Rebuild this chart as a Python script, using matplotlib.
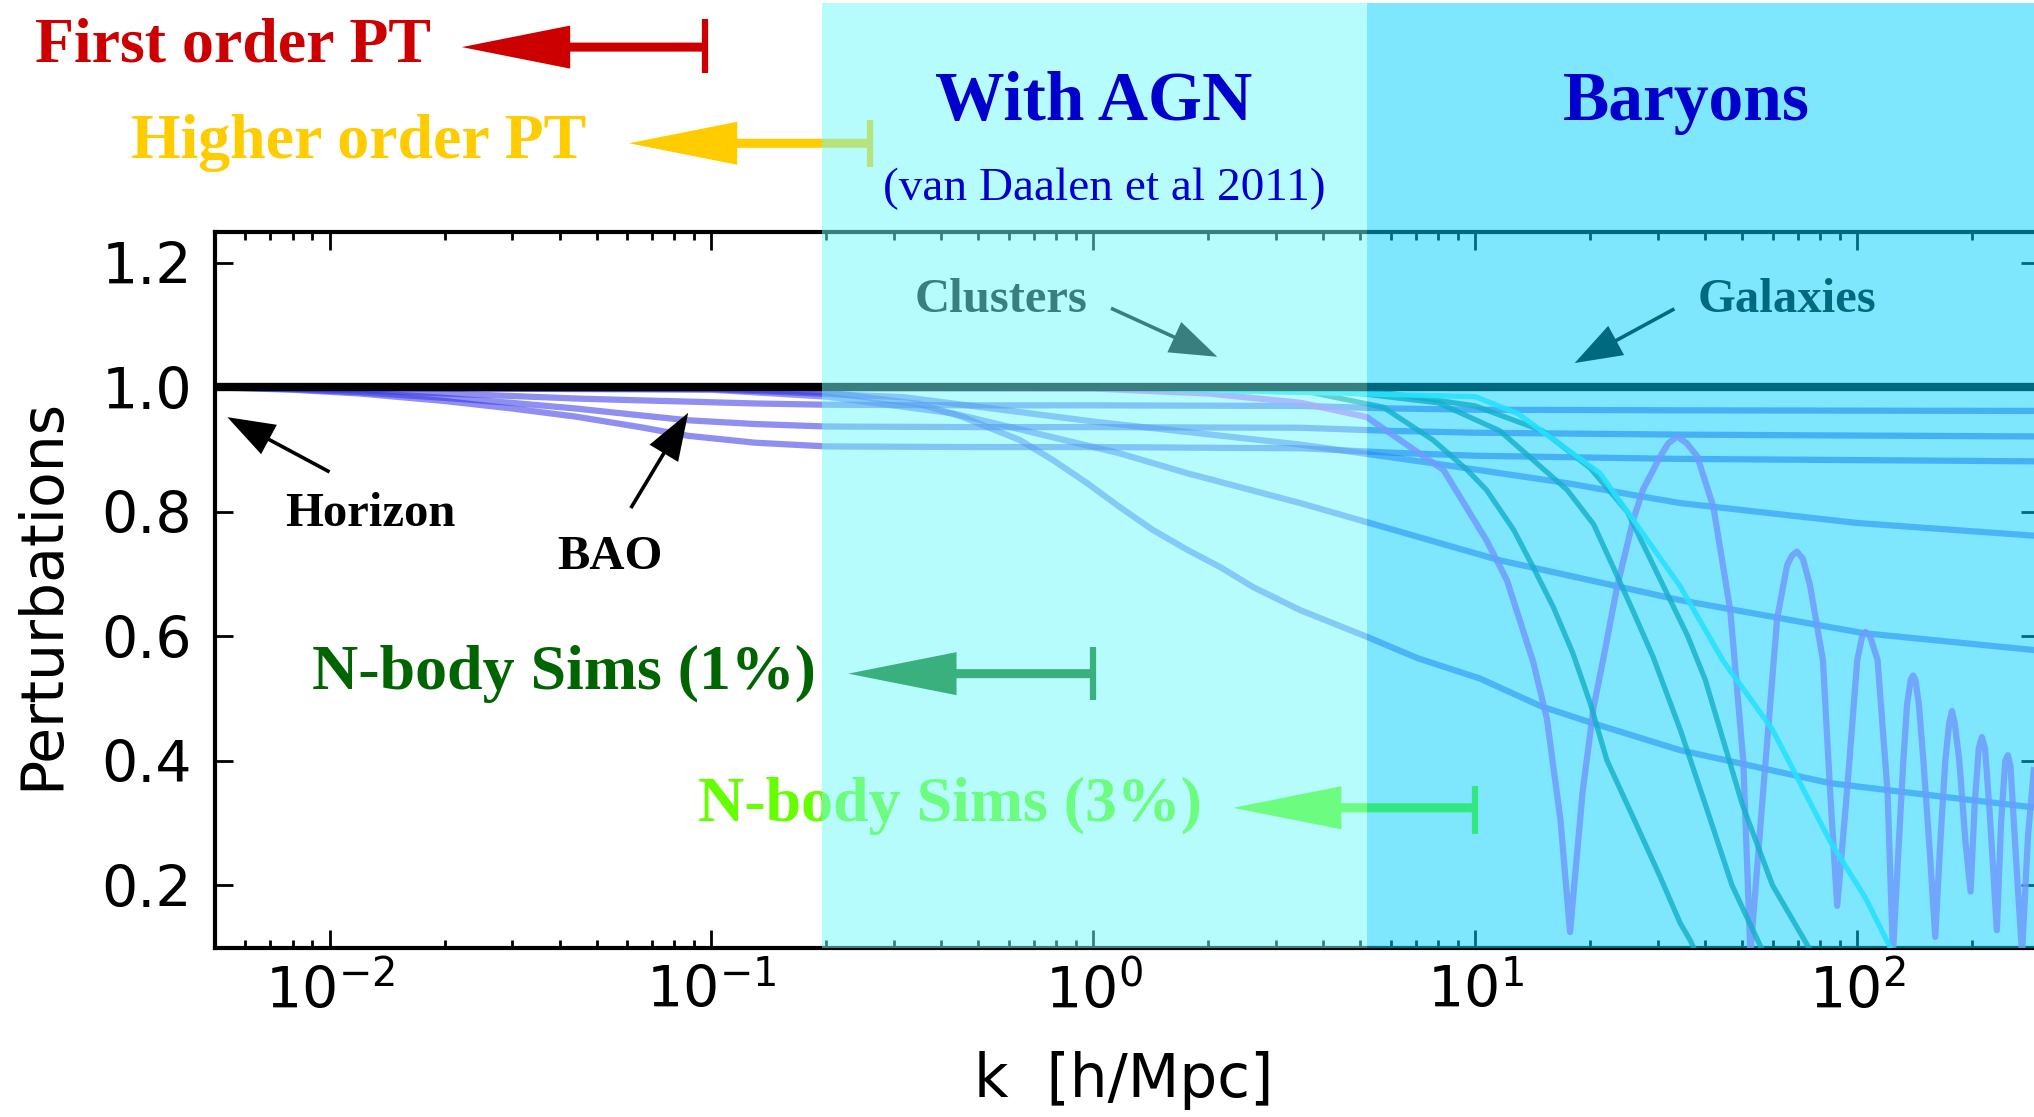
import matplotlib
matplotlib.use("Agg")
import matplotlib.pyplot as plt
from matplotlib.patches import FancyArrowPatch
from matplotlib.ticker import FixedLocator, LogLocator, NullFormatter, FuncFormatter

# ---------------- data: P(k) relative to the linear dark-matter-only spectrum ----------------
k_bao = [0.005, 0.008, 0.012, 0.02, 0.03, 0.044, 0.065, 0.087, 0.13, 0.2, 0.5, 1.0, 3.5, 6.0, 10.0, 34.0, 300.0]
bao_1 = [1.0, 0.998, 0.995, 0.99, 0.986, 0.982, 0.979, 0.977, 0.974, 0.972, 0.971, 0.971, 0.970, 0.966, 0.964, 0.963, 0.962]
bao_2 = [1.0, 0.997, 0.992, 0.983, 0.975, 0.966, 0.955, 0.947, 0.941, 0.937, 0.936, 0.936, 0.935, 0.930, 0.927, 0.924, 0.921]
bao_3 = [1.0, 0.996, 0.990, 0.978, 0.966, 0.953, 0.936, 0.922, 0.911, 0.905, 0.904, 0.904, 0.902, 0.895, 0.890, 0.885, 0.881]

k_gal_a = [0.005, 0.1, 0.32, 1.0, 3.48, 7.75, 17.4, 25.9, 34.4, 100.0, 300.0]
gal_a = [1.0, 0.997, 0.984, 0.945, 0.908, 0.878, 0.846, 0.827, 0.814, 0.782, 0.761]

k_gal_b = [0.005, 0.1, 0.2, 0.43, 1.17, 1.76, 3.48, 11.6, 34.4, 104.0, 300.0]
gal_b = [1.0, 0.996, 0.985, 0.958, 0.894, 0.862, 0.814, 0.722, 0.658, 0.605, 0.577]

k_gal_c = [0.005, 0.1, 0.2, 0.352, 0.456, 0.643, 0.784, 0.963, 1.17, 1.43, 1.76, 2.15, 2.62,
           3.48, 5.21, 7.05, 10.3, 14.8, 20.4, 34.4, 85.0, 140.0, 300.0]
gal_c = [1.0, 0.998, 0.992, 0.973, 0.952, 0.915, 0.883, 0.846, 0.808, 0.771, 0.739, 0.711, 0.679,
         0.642, 0.599, 0.565, 0.532, 0.488, 0.460, 0.417, 0.364, 0.348, 0.324]

k_osc = [0.005, 1.0, 2.0, 3.5, 5.2, 8.26, 10.7, 12.1, 14.2, 15.4, 16.7, 17.7, 19.1, 20.4, 21.6, 23.5,
         25.9, 27.5, 30.5, 32.0, 33.8, 35.8, 38.1, 42.0, 46.5, 50.3, 52.5, 56.7, 61.7, 65.5, 67.5,
         69.5, 72.0, 75.2, 81.3, 84.9, 88.6, 94.0, 100.0, 103.0, 105.0, 108.0, 113.0, 120.0, 124.0,
         128.0, 132.0, 135.0, 138.0, 140.0, 142.0, 145.0, 149.0, 155.0, 160.0, 165.0, 170.0, 174.0,
         177.0, 180.0, 185.0, 192.0, 198.0, 203.0, 208.0, 212.0, 216.0, 222.0, 232.0, 238.0, 244.0,
         248.0, 252.0, 260.0, 270.0, 280.0, 290.0]
osc = [1.0, 0.998, 0.99, 0.975, 0.952, 0.867, 0.754, 0.69, 0.557, 0.467, 0.306, 0.125, 0.351, 0.486,
       0.562, 0.679, 0.787, 0.836, 0.889, 0.91, 0.921, 0.91, 0.889, 0.808, 0.642, 0.40, 0.09, 0.351,
       0.629, 0.714, 0.73, 0.736, 0.725, 0.682, 0.562, 0.351, 0.167, 0.351, 0.562, 0.60, 0.607, 0.60,
       0.562, 0.351, 0.09, 0.25, 0.40, 0.49, 0.53, 0.537, 0.53, 0.49, 0.40, 0.25, 0.117, 0.27, 0.40,
       0.46, 0.48, 0.46, 0.40, 0.27, 0.19, 0.33, 0.42, 0.438, 0.42, 0.32, 0.128, 0.30, 0.40, 0.409,
       0.39, 0.25, 0.09, 0.28, 0.385]

k_cut_1 = [0.005, 1.0, 3.5, 5.74, 7.76, 9.53, 10.7, 12.6, 14.2, 16.0, 18.0, 20.0, 22.1, 25.9, 30.5, 34.4, 36.5, 40.0]
cut_1 = [1.0, 1.0, 0.995, 0.968, 0.915, 0.867, 0.835, 0.771, 0.710, 0.647, 0.573, 0.492, 0.401, 0.309, 0.213, 0.139, 0.112, 0.06]

k_cut_2 = [0.005, 1.0, 5.0, 8.0, 11.6, 17.4, 20.4, 23.0, 25.9, 29.2, 34.4, 40.0, 47.0, 56.0, 62.0]
cut_2 = [1.0, 1.0, 0.99, 0.975, 0.93, 0.835, 0.78, 0.71, 0.64, 0.567, 0.45, 0.33, 0.2, 0.1, 0.05]

k_cut_3 = [0.005, 1.0, 6.0, 10.0, 15.0, 20.0, 25.0, 30.0, 36.0, 40.0, 50.0, 60.0, 78.0, 85.0]
cut_3 = [1.0, 1.0, 0.99, 0.97, 0.93, 0.87, 0.80, 0.70, 0.60, 0.53, 0.33, 0.20, 0.08, 0.05]

k_cut_4 = [0.005, 1.0, 10.0, 12.9, 21.2, 25.9, 34.4, 44.6, 60.0, 85.0, 105.0, 122.0, 135.0]
cut_4 = [1.0, 1.0, 0.985, 0.958, 0.862, 0.787, 0.68, 0.56, 0.45, 0.27, 0.18, 0.10, 0.05]

y_ticks = [0.2, 0.4, 0.6, 0.8, 1.0, 1.2]

# scale limits of the different modelling approaches
k_first_order_pt = 0.096
k_higher_order_pt = 0.26
k_nbody_1pc = 1.0
k_nbody_3pc = 10.0
k_agn_start = 0.195
k_baryon_start = 5.2

# ---------------- figure ----------------
plt.rcParams["mathtext.fontset"] = "dejavusans"
fig = plt.figure(figsize=(20.34, 11.17), dpi=100)
ax = fig.add_axes([0.1055, 0.1517, 0.8972, 0.6409])
ax.set_xscale("log")
ax.set_xlim(0.005, 300)
ax.set_ylim(0.1, 1.25)

blue = (0.2, 0.2, 0.9)
ax.axhline(1.0, color="black", lw=6, zorder=6)
for v in (bao_1, bao_2, bao_3):
    ax.plot(k_bao, v, color=blue, lw=4.5, alpha=0.55, zorder=3)
ax.plot(k_gal_a, gal_a, color=blue, lw=4.5, alpha=0.5, zorder=3)
ax.plot(k_gal_b, gal_b, color=blue, lw=4.5, alpha=0.5, zorder=3)
ax.plot(k_gal_c, gal_c, color=blue, lw=4.5, alpha=0.5, zorder=3)
ax.plot(k_osc, osc, color=(0.88, 0.4, 1.0), lw=4.5, alpha=0.85, zorder=3)
teal = (0.15, 0.55, 0.6)
ax.plot(k_cut_1, cut_1, color=teal, lw=3.8, alpha=0.8, zorder=3)
ax.plot(k_cut_2, cut_2, color=teal, lw=3.8, alpha=0.8, zorder=3)
ax.plot(k_cut_3, cut_3, color=teal, lw=3.8, alpha=0.8, zorder=3)
ax.plot(k_cut_4, cut_4, color=(0.3, 0.95, 1.0), lw=3.8, alpha=0.9, zorder=3)

# axes styling
for s in ax.spines.values():
    s.set_linewidth(3)
ax.yaxis.set_major_locator(FixedLocator(y_ticks))
ax.yaxis.set_major_formatter(FuncFormatter(lambda v, p: f"{v:.1f}"))
ax.xaxis.set_major_locator(LogLocator(base=10, numticks=20))
ax.xaxis.set_minor_locator(LogLocator(base=10, subs=range(2, 10), numticks=40))
ax.xaxis.set_minor_formatter(NullFormatter())
ax.tick_params(which="major", direction="in", length=13, width=2, labelsize=41,
               top=True, right=True)
ax.tick_params(which="minor", direction="in", length=6, width=2, top=True)
ax.tick_params(axis="y", pad=16)
ax.tick_params(axis="x", pad=12)

fig.text(0.0204, 0.4687, "Perturbations", rotation=90, ha="center", va="center", fontsize=42)
fig.text(0.5524, 0.033, "k  [h/Mpc]", ha="center", va="center", fontsize=43)

serif = "Liberation Serif"


def range_arrow(k_tip, k_bar, y, y0, y1, color, head_len=78, head_w=31, tail_w=6.5):
    arr = FancyArrowPatch((k_bar, y), (k_tip, y),
                          arrowstyle=f"simple,head_length={head_len},head_width={head_w},tail_width={tail_w}",
                          mutation_scale=1, color=color, lw=0, shrinkA=0, shrinkB=0,
                          clip_on=False, zorder=8)
    ax.add_patch(arr)
    ax.plot([k_bar, k_bar], [y0, y1], color=color, lw=4.5, solid_capstyle="butt",
            clip_on=False, zorder=8)


def pointer(tail, tip, color="black"):
    arr = FancyArrowPatch(tail, tip,
                          arrowstyle="simple,head_length=34,head_width=24,tail_width=2.6",
                          mutation_scale=1, color=color, lw=0, shrinkA=0, shrinkB=0,
                          clip_on=False, zorder=8)
    ax.add_patch(arr)


# modelling range annotations
ax.text(0.001694, 1.524, "First order PT", color="#cc0000", fontsize=46, fontweight="bold",
        family=serif, ha="left", va="baseline", clip_on=False, zorder=8)
range_arrow(0.0222, k_first_order_pt, 1.5465, 1.505, 1.591, "#cc0000")

ax.text(0.00302, 1.368, "Higher order PT", color="#ffcc00", fontsize=46, fontweight="bold",
        family=serif, ha="left", va="baseline", clip_on=False, zorder=8)
range_arrow(0.0608, k_higher_order_pt, 1.392, 1.354, 1.429, "#ffcc00")

ax.text(0.009, 0.516, "N-body Sims (1%)", color="#006400", fontsize=46, fontweight="bold",
        family=serif, ha="left", va="baseline", zorder=8)
range_arrow(0.228, k_nbody_1pc, 0.540, 0.498, 0.583, "#006400")

ax.text(0.0923, 0.303, "N-body Sims (3%)", color="#66ff00", fontsize=46, fontweight="bold",
        family=serif, ha="left", va="baseline", zorder=8)
range_arrow(2.32, k_nbody_3pc, 0.3245, 0.283, 0.359, "#66ff00")

# physical features
ax.text(0.01277, 0.797, "Horizon", fontsize=35, fontweight="bold", family=serif,
        ha="center", va="center", zorder=8)
pointer((0.01, 0.864), (0.0054, 0.952))
ax.text(0.0542, 0.728, "BAO", fontsize=35, fontweight="bold", family=serif,
        ha="center", va="center", zorder=8)
pointer((0.0615, 0.806), (0.0869, 0.959))
ax.text(0.573, 1.140, "Clusters", fontsize=35, fontweight="bold", family=serif,
        ha="center", va="center", zorder=8)
pointer((1.112, 1.127), (2.11, 1.049))
ax.text(65.5, 1.140, "Galaxies", fontsize=35, fontweight="bold", family=serif,
        ha="center", va="center", zorder=8)
pointer((33.2, 1.126), (18.2, 1.039))

# translucent bands for the scales affected by baryonic physics
ax.axvspan(k_agn_start, k_baryon_start, ymin=0, ymax=1.319, color=(0.447, 0.984, 0.984),
           alpha=0.51, lw=0, clip_on=False, zorder=50)
ax.axvspan(k_baryon_start, 1000, ymin=0, ymax=1.319, color=(0.0, 0.82, 0.99),
           alpha=0.505, lw=0, clip_on=False, zorder=50)

ax.text(1.0, 1.429, "With AGN", color="#0000cc", fontsize=50, fontweight="bold", family=serif,
        ha="center", va="baseline", clip_on=False, zorder=60)
ax.text(1.07, 1.301, "(van Daalen et al 2011)", color="#0000cc", fontsize=34, family=serif,
        ha="center", va="baseline", clip_on=False, zorder=60)
ax.text(35.6, 1.429, "Baryons", color="#0000cc", fontsize=50, fontweight="bold", family=serif,
        ha="center", va="baseline", clip_on=False, zorder=60)

fig.savefig("out.png", dpi=100)
